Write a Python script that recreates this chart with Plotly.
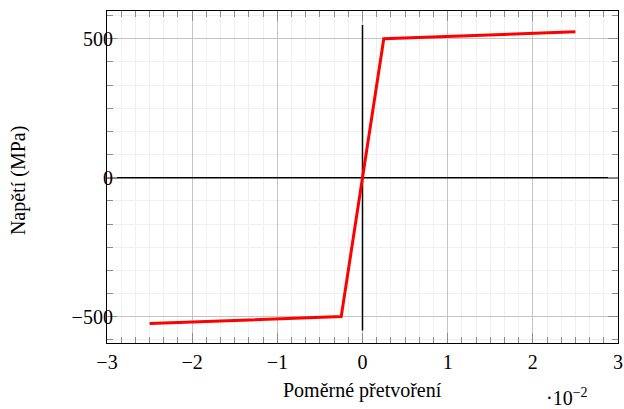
import plotly.graph_objects as go

# Data (strain in units of 1e-2, stress in MPa)
strain = [-2.5, -0.25, 0.25, 2.5]
stress = [-525, -500, 500, 525]

# vertical reference line at strain 0
vline_x = [0, 0]
vline_y = [-550, 550]
# horizontal reference line at stress 0
hline_x = [-3, 3]
hline_y = [0, 0]

x_ticks = [-3, -2, -1, 0, 1, 2, 3]
y_ticks = [-500, 0, 500]

FONT = "Liberation Serif, Times New Roman, serif"

fig = go.Figure()
fig.add_trace(go.Scatter(x=hline_x, y=hline_y, mode="lines",
                         line=dict(color="black", width=1.5), hoverinfo="skip"))
fig.add_trace(go.Scatter(x=vline_x, y=vline_y, mode="lines",
                         line=dict(color="black", width=1.5), hoverinfo="skip"))
fig.add_trace(go.Scatter(x=strain, y=stress, mode="lines",
                         line=dict(color="#ff0000", width=3)))

axis_common = dict(
    showline=True, linecolor="black", linewidth=1.2, mirror="ticks",
    ticks="inside", ticklen=10, tickcolor="#8c8c8c", tickwidth=1,
    showgrid=True, gridcolor="#c4c4c4", gridwidth=1,
    zeroline=False, automargin=False,
    tickfont=dict(family=FONT, size=20, color="black"),
)

def fmt(v):
    return ("\u2212" + str(abs(v))) if v < 0 else str(v)

fig.update_xaxes(
    range=[-3, 3], tickmode="array", tickvals=x_ticks,
    ticktext=[fmt(v) for v in x_ticks],
    minor=dict(dtick=1/6, ticks="inside", ticklen=6, tickcolor="#8c8c8c",
               showgrid=True, gridcolor="#f0f0f0", gridwidth=1),
    ticklabelstandoff=1,
    **axis_common,
)
fig.update_yaxes(
    range=[-595, 600], tickmode="array", tickvals=y_ticks,
    ticktext=[fmt(v) for v in y_ticks],
    minor=dict(dtick=500/6, ticks="inside", ticklen=6, tickcolor="#8c8c8c",
               showgrid=True, gridcolor="#f0f0f0", gridwidth=1),
    ticklabelstandoff=-11,
    **axis_common,
)

# axis titles as annotations
fig.add_annotation(text="Poměrné přetvoření", xref="paper", yref="paper",
                   x=0.5, y=-0.1445, xanchor="center", yanchor="middle", showarrow=False,
                   font=dict(family=FONT, size=20, color="black"))
fig.add_annotation(text="Napětí (MPa)", xref="paper", yref="paper",
                   x=-0.172, y=0.488, xanchor="center", yanchor="middle", showarrow=False,
                   textangle=-90,
                   font=dict(family=FONT, size=20, color="black"))
fig.add_annotation(text="·10<sup>−2</sup>", xref="paper", yref="paper",
                   x=0.901, y=-0.164, xanchor="center", yanchor="middle", showarrow=False,
                   font=dict(family=FONT, size=20, color="black"))

fig.update_layout(
    width=624, height=409,
    margin=dict(l=107, r=6, t=11, b=66, autoexpand=False),
    plot_bgcolor="white", paper_bgcolor="white",
    showlegend=False,
)

# remove the browser's default 8px body margin so the figure fills the window
fig.write_html("out.html",
               config={"displayModeBar": False},
               post_script="document.body.style.margin='0';document.body.style.overflow='hidden';")
